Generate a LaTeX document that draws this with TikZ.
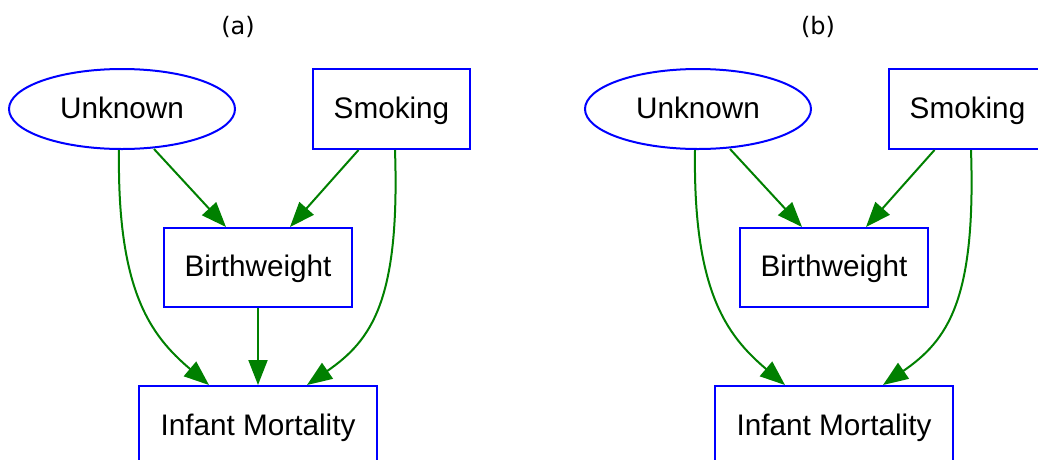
\documentclass[tikz,border=0pt]{standalone}
\usepackage{fontspec}
\setmainfont{Liberation Sans}
\newfontfamily\capfont{DejaVu Sans}
\usetikzlibrary{shapes.geometric,arrows.meta,calc}
\definecolor{nodeblue}{RGB}{0,0,255}
\definecolor{edgegreen}{RGB}{0,128,0}
\begin{document}
\begin{tikzpicture}[x=1pt,y=-1pt,
  nodetext/.style={font=\fontsize{29.7}{34}\selectfont, text=black,
                   text height=21.5pt, text depth=3.1pt},
  box/.style={nodetext, draw=nodeblue, line width=2pt, rectangle, inner sep=0pt},
  oval/.style={nodetext, draw=nodeblue, line width=2pt, ellipse, inner sep=0pt,
               minimum width=226pt, minimum height=80pt},
  edge/.style={draw=edgegreen, line width=2pt, -{Triangle[length=25pt,width=19pt]}},
  panel/.style={font=\capfont\fontsize{24}{28}\selectfont}]
  \useasboundingbox (0,0) rectangle (1038,459);
  \fill[white] (0,0) rectangle (1038,459);
  \clip (0,0) rectangle (1038,459);

  % panel labels
  \node[panel] (capA) at (238,27) {(a)};
  \node[panel] (capB) at (818,27) {(b)};

  % ---- panel (a): full graph ----
  \begin{scope}
    \node[oval] (unkA) at (122,109) {Unknown};
    \node[box, minimum width=157pt, minimum height=80pt] (smkA) at (391.5,109) {Smoking};
    \node[box, minimum width=188pt, minimum height=79pt] (bwA) at (258,267.5) {Birthweight};
    \node[box, minimum width=238pt, minimum height=80pt] (imA) at (258,426) {Infant Mortality};

    \draw[edge] ($(unkA.south)+(32,-1)$) -- ($(bwA.north)+(-32,0)$);
    \draw[edge] ($(smkA.south)+(-33,0)$) -- ($(bwA.north)+(32,0)$);
    \draw[edge] (bwA.south) -- (imA.north);
    \draw[edge] ($(unkA.south)+(-3,0)$) .. controls (117,290) and (150,335) .. ($(imA.north)+(-49,0)$);
    \draw[edge] ($(smkA.south)+(3.5,0)$) .. controls (400,300) and (372,340) .. ($(imA.north)+(49,0)$);
  \end{scope}

  % ---- panel (b): Birthweight -> Infant Mortality removed ----
  \begin{scope}[xshift=576pt]
    \node[oval] (unkB) at (122,109) {Unknown};
    \node[box, minimum width=157pt, minimum height=80pt] (smkB) at (391.5,109) {Smoking};
    \node[box, minimum width=188pt, minimum height=79pt] (bwB) at (258,267.5) {Birthweight};
    \node[box, minimum width=238pt, minimum height=80pt] (imB) at (258,426) {Infant Mortality};

    \draw[edge] ($(unkB.south)+(32,-1)$) -- ($(bwB.north)+(-32,0)$);
    \draw[edge] ($(smkB.south)+(-33,0)$) -- ($(bwB.north)+(32,0)$);
    \draw[white, line width=1.2pt] (bwB.south) -- (imB.north);
    \draw[edge] ($(unkB.south)+(-3,0)$) .. controls (117,290) and (150,335) .. ($(imB.north)+(-49,0)$);
    \draw[edge] ($(smkB.south)+(3.5,0)$) .. controls (400,300) and (372,340) .. ($(imB.north)+(49,0)$);
  \end{scope}
\end{tikzpicture}
\end{document}
